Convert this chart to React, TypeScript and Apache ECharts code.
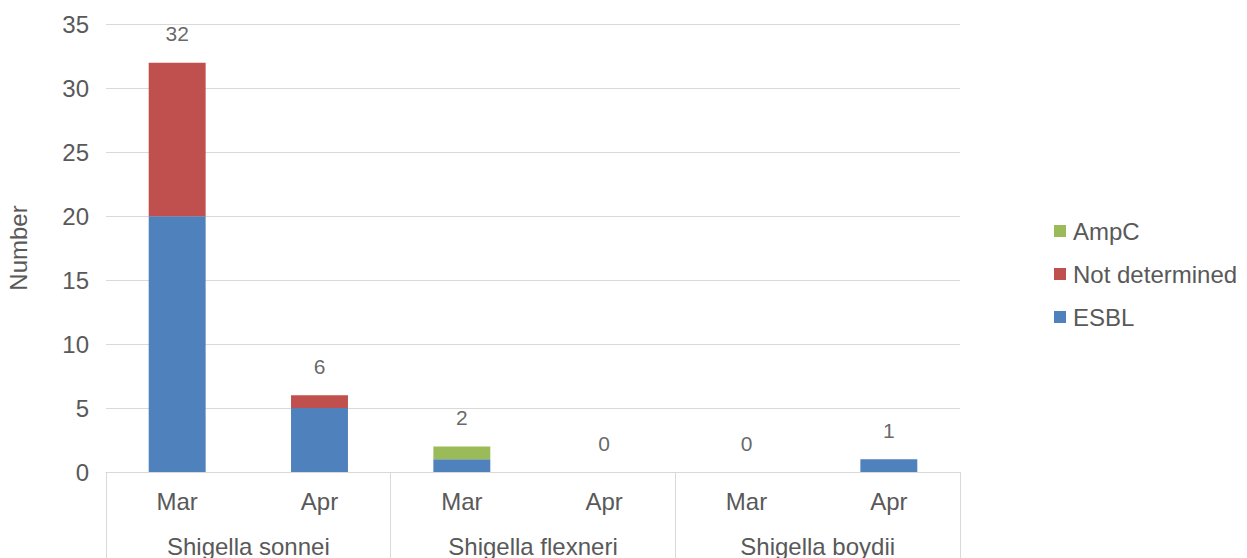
import React, { useEffect, useRef } from "react";
import * as echarts from "echarts";

const months = ["Mar", "Apr", "Mar", "Apr", "Mar", "Apr"];
const species = ["Shigella sonnei", "Shigella flexneri", "Shigella boydii"];
const esbl = [20, 5, 1, 0, 0, 1];
const notDetermined = [12, 1, 0, 0, 0, 0];
const ampC = [0, 0, 1, 0, 0, 0];
const totals = [32, 6, 2, 0, 0, 1];
const yTicks = { min: 0, max: 35, interval: 5 };

const FONT = "'Liberation Sans', Arial, sans-serif";
const TXT = "#595959";
const GRID = "#d9d9d9";
const FS = 24;

export default function App() {
  const ref = useRef<HTMLDivElement>(null);
  useEffect(() => {
    document.body.style.margin = "0";
    const chart = echarts.init(ref.current!, null, { renderer: "svg" });
    chart.setOption({
      animation: false,
      textStyle: { fontFamily: FONT, color: TXT },
      grid: { left: 106, right: 287, top: 24.5, bottom: 84, containLabel: false },
      legend: {
        orient: "vertical",
        left: 1054,
        top: 219,
        padding: 0,
        itemWidth: 12,
        itemHeight: 12,
        itemGap: 19,
        icon: "rect",
        data: ["AmpC", "Not determined", "ESBL"],
        textStyle: { fontSize: FS, color: TXT, fontFamily: FONT, padding: [0, 0, 0, 2] },
      },
      xAxis: [
        {
          type: "category",
          data: months,
          position: "bottom",
          axisLine: { show: true, lineStyle: { color: GRID, width: 1 } },
          axisTick: { show: false },
          axisLabel: { fontSize: FS, color: TXT, margin: 17, fontFamily: FONT },
        },
        {
          type: "category",
          data: species,
          position: "bottom",
          axisLine: { show: false },
          axisTick: { show: true, length: 90, lineStyle: { color: GRID, width: 1 } },
          axisLabel: { fontSize: FS, color: TXT, margin: 62, fontFamily: FONT },
        },
      ],
      yAxis: {
        type: "value",
        min: yTicks.min,
        max: yTicks.max,
        interval: yTicks.interval,
        axisLine: { show: false },
        axisTick: { show: false },
        axisLabel: { fontSize: FS, color: TXT, margin: 17, fontFamily: FONT },
        splitLine: { lineStyle: { color: GRID, width: 1 } },
      },
      graphic: [
        {
          type: "text",
          x: 18,
          y: 248,
          rotation: Math.PI / 2,
          style: {
            text: "Number",
            fontSize: FS,
            fill: TXT,
            fontFamily: FONT,
            align: "center",
            verticalAlign: "middle",
          },
        },
      ],
      series: [
        {
          name: "ESBL",
          type: "bar",
          stack: "s",
          barCategoryGap: "60%",
          data: esbl,
          itemStyle: { color: "#4f81bd" },
        },
        {
          name: "Not determined",
          type: "bar",
          stack: "s",
          barCategoryGap: "60%",
          data: notDetermined,
          itemStyle: { color: "#c0504d" },
        },
        {
          name: "AmpC",
          type: "bar",
          stack: "s",
          barCategoryGap: "60%",
          data: ampC,
          itemStyle: { color: "#9bbb59" },
        },
        {
          name: "Total",
          type: "scatter",
          data: totals,
          symbolSize: 0,
          silent: true,
          label: {
            show: true,
            position: "top",
            distance: 18.5,
            fontSize: 21,
            color: "#404040",
            fontFamily: FONT,
          },
        },
      ],
    });
    return () => chart.dispose();
  }, []);
  return <div ref={ref} style={{ width: 1247, height: 558 }} />;
}
